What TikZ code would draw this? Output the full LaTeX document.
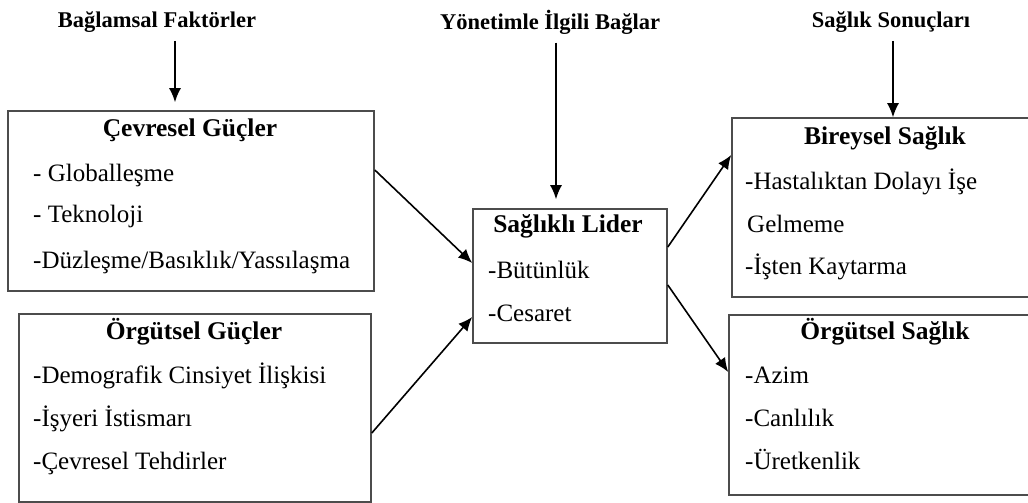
\documentclass[tikz,border=0pt]{standalone}
\usepackage{fontspec}
\setmainfont{Liberation Serif}
\usetikzlibrary{arrows.meta}

\tikzset{
	box/.style={draw=black!70, line width=1.6pt, inner sep=0pt},
	head/.style={font=\fontsize{22.5}{26}\selectfont\bfseries},
	boxhead/.style={font=\fontsize{25.5}{29}\selectfont\bfseries},
	item/.style={anchor=west, inner sep=0pt, text height=17pt, text depth=5pt,
		font=\fontsize{25}{29}\selectfont},
	arr/.style={-{Latex[length=14pt,width=12pt]}, line width=1.6pt}
}

\begin{document}
\begin{tikzpicture}[x=1pt, y=-1pt]

		\useasboundingbox (0,0) rectangle (1028,503);

		% headings
		\node[head] (bag) at (157,22) {Bağlamsal Faktörler};
		\node[head] (yon) at (550,22) {Yönetimle İlgili Bağlar};
		\node[head] (son) at (891,22) {Sağlık Sonuçları};

		%% Boxes %%
		% Cevresel Gucler
		\node[box, minimum width=366pt, minimum height=180pt] (cevre) at (191,201) {};
		\node[boxhead] (cevreT) at (190,130) {Çevresel Güçler};
		\node[item] (cevre1) at (33,175) {- Globalleşme};
		\node[item] (cevre2) at (33,216) {- Teknoloji};
		\node[item] (cevre3) at (33,262) {-Düzleşme/Basıklık/Yassılaşma};

		% Orgutsel Gucler
		\node[box, minimum width=352pt, minimum height=188pt] (orgut) at (195,408) {};
		\node[boxhead] (orgutT) at (194,332) {Örgütsel Güçler};
		\node[item] (orgut1) at (33,377) {-Demografik Cinsiyet İlişkisi};
		\node[item] (orgut2) at (33,420) {-İşyeri İstismarı};
		\node[item] (orgut3) at (33,463) {-Çevresel Tehdirler};

		% Saglikli Lider
		\node[box, minimum width=194pt, minimum height=134pt] (lider) at (570,276) {};
		\node[boxhead] (liderT) at (568,226) {Sağlıklı Lider};
		\node[item] (lider1) at (488,272) {-Bütünlük};
		\node[item] (lider2) at (488,315) {-Cesaret};

		% Bireysel Saglik
		\node[box, minimum width=308pt, minimum height=179pt] (birey) at (886,207.5) {};
		\node[boxhead] (bireyT) at (885,138) {Bireysel Sağlık};
		\node[item] (birey1) at (745,183) {-Hastalıktan Dolayı İşe};
		\node[item] (birey2) at (747,226) {Gelmeme};
		\node[item] (birey3) at (745,268) {-İşten Kaytarma};

		% Orgutsel Saglik
		\node[box, minimum width=311pt, minimum height=180pt] (orgsag) at (884.5,405) {};
		\node[boxhead] (orgsagT) at (885,332) {Örgütsel Sağlık};
		\node[item] (orgsag1) at (745,377) {-Azim};
		\node[item] (orgsag2) at (745,420) {-Canlılık};
		\node[item] (orgsag3) at (745,463) {-Üretkenlik};

		%% Arrows %%
		\draw[arr] ([xshift=18pt,yshift=-5pt]bag.south) -- ([xshift=-16pt,yshift=8pt]cevre.north);
		\draw[arr] ([xshift=6pt,yshift=-5pt]yon.south) -- ([xshift=-14pt,yshift=9pt]lider.north);
		\draw[arr] ([xshift=2pt,yshift=-5pt]son.south) -- ([xshift=7pt]birey.north);

		\draw[arr] ([yshift=31pt]cevre.east) -- ([yshift=13pt]lider.west);
		\draw[arr] ([yshift=-25pt]orgut.east) -- ([yshift=-41pt]lider.west);
		\draw[arr] ([yshift=29pt]lider.east) -- ([yshift=52.5pt]birey.west);
		\draw[arr] ([yshift=-9pt]lider.east) -- ([yshift=33pt]orgsag.west);

	\end{tikzpicture}
\end{document}
